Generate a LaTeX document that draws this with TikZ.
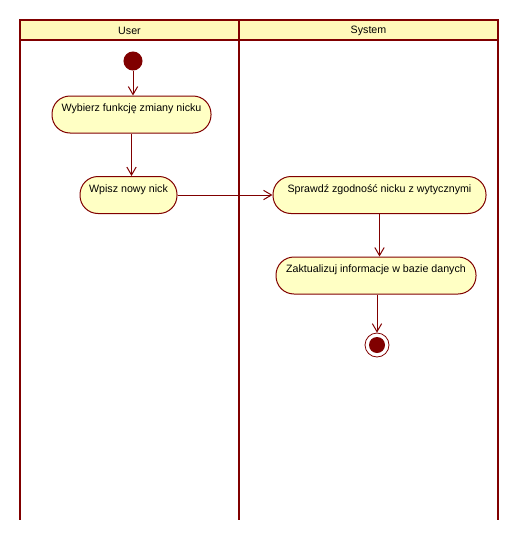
\documentclass[tikz,border=0pt]{standalone}
\usepackage{fontspec}
\setmainfont{Liberation Sans}
\usetikzlibrary{arrows.meta}

\definecolor{umlred}{RGB}{128,0,0}
\definecolor{umlfill}{RGB}{255,255,196}
\definecolor{lanefill}{RGB}{255,249,186}

\tikzset{every picture/.style={line width=0.75pt}}
\tikzset{
  action/.style={draw=umlred, fill=umlfill, line width=0.75pt, rounded corners=13.5pt, minimum height=27.75pt,
    inner xsep=6pt, text height=7pt, text depth=11pt, font=\fontsize{8}{9}\selectfont},
  flow/.style={draw=umlred, line width=0.75pt, -{Straight Barb[length=6pt,width=7pt]}},
  lane/.style={draw=umlred, line width=1.6pt},
}

\begin{document}
\begin{tikzpicture}[x=0.75pt,y=0.75pt,yscale=-1,xscale=1]
\useasboundingbox (0,0) rectangle (520,539);

%Shape: Header [id:lanes]
\draw [lane, fill=lanefill] (20,20) rectangle (239,40) ;
\draw [lane, fill=lanefill] (239,20) rectangle (498,40) ;
%Straight Lines [id:lanelines]
\draw [lane] (20,40) -- (20,520) ;
\draw [lane] (239,40) -- (239,520) ;
\draw [lane] (498,40) -- (498,520) ;

% Text Node
\node [font=\fontsize{8}{9}\selectfont] (user) at (129.5,30.5) {User};
% Text Node
\node [font=\fontsize{8}{9}\selectfont] (system) at (368.5,30.5) {System};

%Shape: Circle [id:start]
\node [circle, fill=umlred, draw=umlred, minimum size=13.5pt, inner sep=0] (start) at (133,61) {};
%Shape: Actions
\node [action, minimum width=119.25pt] (choose) at (131.5,114.5) {Wybierz funkcję zmiany nicku};
\node [action, minimum width=72.75pt] (enter) at (128.5,195) {Wpisz nowy nick};
\node [action, minimum width=159.75pt] (check) at (379.5,195) {Sprawdź zgodność nicku z wytycznymi};
\node [action, minimum width=150pt] (update) at (376,275.5) {Zaktualizuj informacje w bazie danych};
%Shape: Circle [id:end]
\node [circle, fill=white, draw=umlred, line width=0.6pt, minimum size=18pt, inner sep=0] (end) at (377,345) {};
\node [circle, fill=umlred, minimum size=12pt, inner sep=0] (endin) at (end) {};

%Straight Lines [id:flows]
\draw [flow] (start) -- (choose.north -| start) ;
\draw [flow] (choose.south) -- (choose.south |- enter.north) ;
\draw [flow] (enter) -- (check) ;
\draw [flow] (check.south) -- (check.south |- update.north) ;
\draw [flow] (update.south -| end) -- (end) ;

\end{tikzpicture}
\end{document}
